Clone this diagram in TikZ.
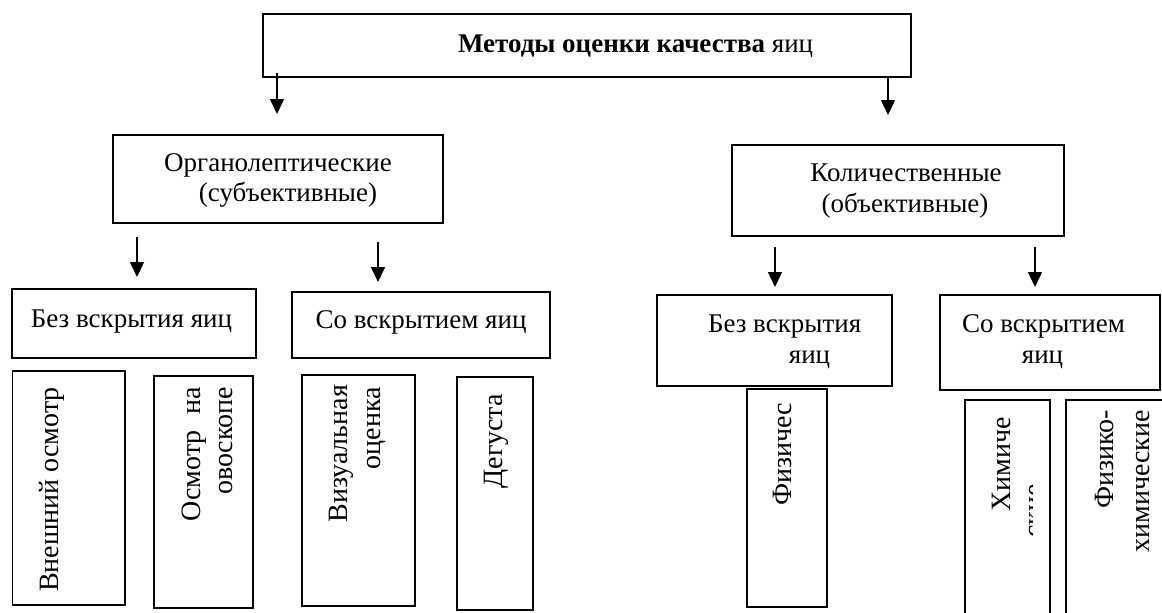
\documentclass[tikz,border=0pt]{standalone}
\usepackage{fontspec}
\setmainfont{Liberation Serif}
\usetikzlibrary{arrows.meta}
\begin{document}
\begin{tikzpicture}[x=1pt,y=-1pt,
  box/.style={draw=black, line width=1.7pt, fill=none, inner sep=0pt, outer sep=0pt, anchor=north west},
  txt/.style={inner sep=0pt, outer sep=0pt, font=\fontsize{27}{32}\selectfont},
  vtxt/.style={inner sep=0pt, outer sep=0pt, rotate=90, font=\fontsize{28}{32}\selectfont},
  arr/.style={line width=1.5pt, -{Triangle[width=14pt,length=15pt]}}]
\clip (0,0) rectangle (1162,613);
\fill[white] (0,0) rectangle (1162,613);
% ---- level 0
\node[box, minimum width=648, minimum height=63] (top) at (263,14) {};
\node[txt, anchor=base west] (ttop) at (458,52) {\textbf{Методы оценки качества} яиц};
\coordinate (a1s) at (277,73); \coordinate (a1e) at (277,114);
\coordinate (a2s) at (888,76); \coordinate (a2e) at (888,115);
\draw[arr] (a1s) -- (a1e);
\draw[arr] (a2s) -- (a2e);
% ---- level 1
\node[box, minimum width=330, minimum height=88] (org) at (113,135) {};
\node[txt, anchor=base] (org1) at (278,171) {Органолептические};
\node[txt, anchor=base] (org2) at (288,201) {(субъективные)};
\node[box, minimum width=332, minimum height=91] (kol) at (732,145) {};
\node[txt, anchor=base] (kol1) at (906,181) {Количественные};
\node[txt, anchor=base] (kol2) at (905,212) {(объективные)};
\coordinate (b1s) at (137,237); \coordinate (b1e) at (137,277);
\coordinate (b2s) at (378,242); \coordinate (b2e) at (378,282);
\coordinate (b3s) at (775,247); \coordinate (b3e) at (775,287);
\coordinate (b4s) at (1035,247); \coordinate (b4e) at (1035,287);
\draw[arr] (b1s) -- (b1e);
\draw[arr] (b2s) -- (b2e);
\draw[arr] (b3s) -- (b3e);
\draw[arr] (b4s) -- (b4e);
% ---- level 2
\node[box, minimum width=244, minimum height=69] (bez1) at (12,289) {};
\node[txt, anchor=base] (bez1t) at (131.5,327) {Без вскрытия яиц};
\node[box, minimum width=258, minimum height=66] (so1) at (292,292) {};
\node[txt, anchor=base] (so1t) at (421,328) {Со вскрытием яиц};
\node[box, minimum width=235, minimum height=91] (bez2) at (657,295) {};
\node[txt, anchor=base west] (bez2a) at (708,332) {Без вскрытия};
\node[txt, anchor=base] (bez2b) at (809.5,363) {яиц};
\node[box, minimum width=220, minimum height=95] (so2) at (940,295) {};
\node[txt, anchor=base west] (so2a) at (962,332) {Со вскрытием};
\node[txt, anchor=base] (so2b) at (1042.5,363) {яиц};
% ---- level 3
\node[box, minimum width=112.5, minimum height=234] (c1) at (12.5,371) {};
\node[vtxt, anchor=base] (c1t) at (58,489.5) {Внешний осмотр};
\node[box, minimum width=99, minimum height=232] (c2) at (154,376) {};
\node[vtxt, anchor=base east] (c2a) at (200,387) {\hbox to 134pt{Осмотр\hfill на}};
\node[vtxt, anchor=base east] (c2b) at (232,387) {овоскопе};
\node[box, minimum width=113, minimum height=231] (c3) at (302,375) {};
\node[vtxt, anchor=base east] (c3a) at (347,385) {Визуальная};
\node[vtxt, anchor=base east] (c3b) at (380,387) {оценка};
\node[box, minimum width=76, minimum height=233] (c4) at (457,377) {};
\node[vtxt, anchor=base east] (c4t) at (502,394) {Дегуста};
\node[box, minimum width=80, minimum height=218] (c5) at (747,389) {};
\node[vtxt, anchor=base east] (c5t) at (791,403) {Физичес};
\node[box, minimum width=85, minimum height=240] (c6) at (965,400) {};
\node[vtxt, anchor=base east] (c6t) at (1010,417) {Химиче};
\begin{scope}
  \clip (1028,478) rectangle (1032,540);
  \node[vtxt, anchor=base east] (c6s) at (1042,484) {ские};
\end{scope}
\node[box, minimum width=120, minimum height=240] (c7) at (1066,400) {};
\node[vtxt, anchor=base east] (c7a) at (1113,410) {Физико-};
\node[vtxt, anchor=base east] (c7b) at (1149,410) {химические};
\end{tikzpicture}
\end{document}
